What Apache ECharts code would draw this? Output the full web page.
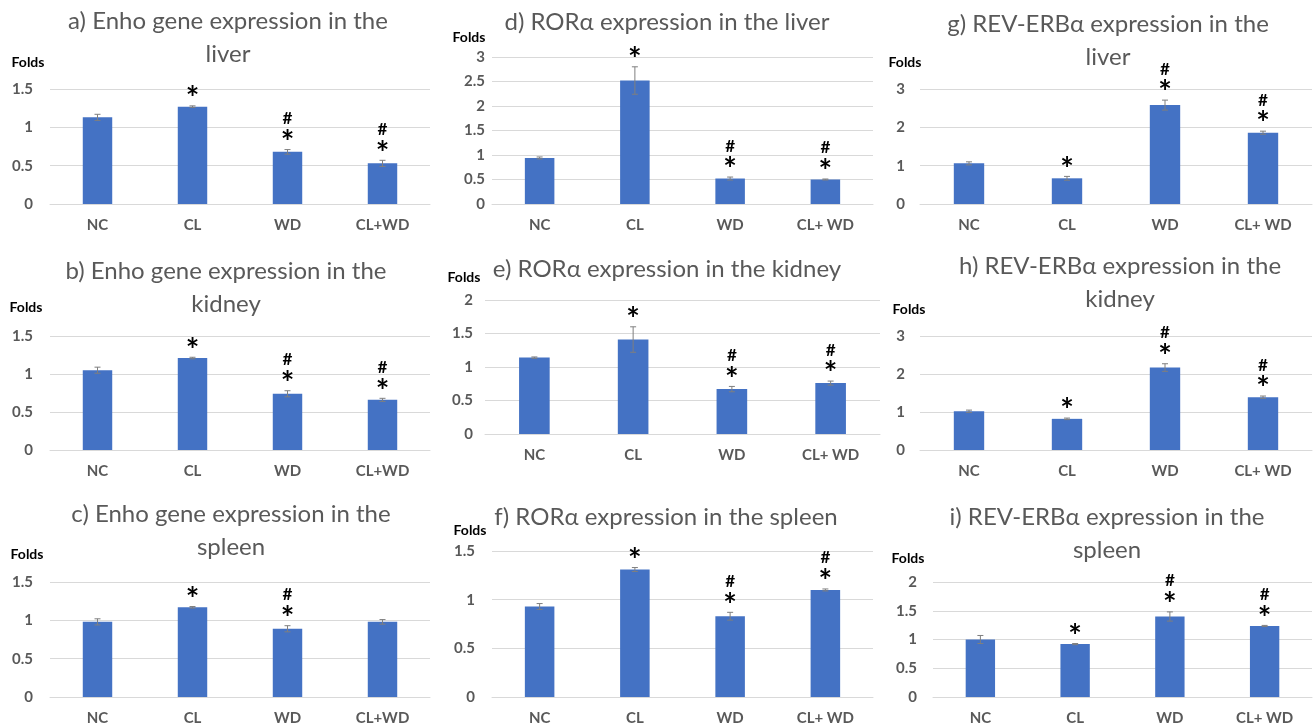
<!DOCTYPE html>
<html>
<head>
<meta charset="utf-8">
<script src="https://cdn.jsdelivr.net/npm/echarts@6/dist/echarts.min.js"></script>
<style>html,body{margin:0;padding:0;background:#fff;}#c{width:1315px;height:727px;}</style>
</head>
<body>
<div id="c"></div>
<script>
// ---------- data ----------
const catsEnho = ['NC', 'CL', 'WD', 'CL+WD'];
const catsOther = ['NC', 'CL', 'WD', 'CL+ WD'];

const enhoLiver = [1.13, 1.27, 0.68, 0.53];
const enhoLiverErr = [0.04, 0.01, 0.03, 0.04];
const enhoKidney = [1.05, 1.21, 0.74, 0.66];
const enhoKidneyErr = [0.04, 0.01, 0.04, 0.02];
const enhoSpleen = [0.98, 1.17, 0.89, 0.98];
const enhoSpleenErr = [0.04, 0.01, 0.04, 0.03];

const roraLiver = [0.94, 2.52, 0.52, 0.50];
const roraLiverErr = [0.02, 0.28, 0.03, 0.01];
const roraKidney = [1.14, 1.41, 0.67, 0.76];
const roraKidneyErr = [0.01, 0.19, 0.04, 0.03];
const roraSpleen = [0.93, 1.31, 0.83, 1.10];
const roraSpleenErr = [0.03, 0.02, 0.04, 0.01];

const revLiver = [1.06, 0.67, 2.58, 1.86];
const revLiverErr = [0.04, 0.05, 0.13, 0.04];
const revKidney = [1.02, 0.82, 2.17, 1.39];
const revKidneyErr = [0.03, 0.02, 0.10, 0.03];
const revSpleen = [1.00, 0.92, 1.40, 1.235];
const revSpleenErr = [0.07, 0.01, 0.08, 0.01];

// significance marks ('#' above '*')
const marksAll = ['', '*', '#*', '#*'];
const marksEnhoSpleen = ['', '*', '#*', ''];

const yMax = { a: 1.5, b: 1.5, c: 1.5, d: 3, e: 2, f: 1.5, g: 3, h: 3, i: 2 };
const yInterval = { a: 0.5, b: 0.5, c: 0.5, d: 0.5, e: 0.5, f: 0.5, g: 1, h: 1, i: 0.5 };

// ---------- layout ----------
const panels = [
  { title: 'a) Enho gene expression in the\nliver', cats: catsEnho, vals: enhoLiver, errs: enhoLiverErr, marks: marksAll, max: yMax.a, interval: yInterval.a,
    grid: [50, 89, 380, 115], tx: 228, ty: 5, fx: 28, fy: 62, lm: 17 },
  { title: 'b) Enho gene expression in the\nkidney', cats: catsEnho, vals: enhoKidney, errs: enhoKidneyErr, marks: marksAll, max: yMax.b, interval: yInterval.b,
    grid: [50, 336, 380, 114], tx: 226, ty: 255, fx: 26, fy: 307, lm: 17 },
  { title: 'c) Enho gene expression in the\nspleen', cats: catsEnho, vals: enhoSpleen, errs: enhoSpleenErr, marks: marksEnhoSpleen, max: yMax.c, interval: yInterval.c,
    grid: [50, 582, 380, 115], tx: 231, ty: 498, fx: 27, fy: 554, lm: 17 },
  { title: 'd) RORα expression in the liver', cats: catsOther, vals: roraLiver, errs: roraLiverErr, marks: marksAll, max: yMax.d, interval: yInterval.d,
    grid: [492, 57, 381, 147], tx: 667, ty: 6, fx: 469, fy: 37, lm: 7 },
  { title: 'e) RORα expression in the kidney', cats: catsOther, vals: roraKidney, errs: roraKidneyErr, marks: marksAll, max: yMax.e, interval: yInterval.e,
    grid: [485, 300, 395, 134], tx: 667, ty: 253, fx: 464, fy: 277, lm: 12 },
  { title: 'f) RORα expression in the spleen', cats: catsOther, vals: roraSpleen, errs: roraSpleenErr, marks: marksAll, max: yMax.f, interval: yInterval.f,
    grid: [492, 551, 381, 146], tx: 666, ty: 501, fx: 470, fy: 530, lm: 17 },
  { title: 'g) REV-ERBα expression in the\nliver', cats: catsOther, vals: revLiver, errs: revLiverErr, marks: marksAll, max: yMax.g, interval: yInterval.g,
    grid: [920, 89, 392, 115], tx: 1108, ty: 8, fx: 905, fy: 62, lm: 15 },
  { title: 'h) REV-ERBα expression in the\nkidney', cats: catsOther, vals: revKidney, errs: revKidneyErr, marks: marksAll, max: yMax.h, interval: yInterval.h,
    grid: [920, 336, 392, 114], tx: 1120, ty: 250, fx: 909, fy: 309, lm: 15 },
  { title: 'i) REV-ERBα expression in the\nspleen', cats: catsOther, vals: revSpleen, errs: revSpleenErr, marks: marksAll, max: yMax.i, interval: yInterval.i,
    grid: [933, 582, 379, 115], tx: 1107, ty: 501, fx: 908, fy: 558, lm: 16 }
];

const FONT = 'Lato, "Open Sans", sans-serif';
const option = {
  animation: false,
  backgroundColor: '#fff',
  title: [], grid: [], xAxis: [], yAxis: [], series: []
};

panels.forEach((p, k) => {
  option.title.push({
    text: p.title, left: p.tx, top: p.ty, padding: 0, textAlign: 'center',
    textStyle: { fontFamily: FONT, fontSize: 24, fontWeight: 'normal', color: '#595959', lineHeight: 33 }
  });
  option.grid.push({ left: p.grid[0], top: p.grid[1], width: p.grid[2], height: p.grid[3], containLabel: false, outerBoundsMode: 'none' });
  option.xAxis.push({
    type: 'category', gridIndex: k, data: p.cats,
    axisLine: { show: true, lineStyle: { color: '#d9d9d9', width: 1 } },
    axisTick: { show: false },
    axisLabel: { margin: 14, fontFamily: FONT, fontSize: 15, fontWeight: 'bold', color: '#595959' }
  });
  option.yAxis.push({
    type: 'value', gridIndex: k, min: 0, max: p.max, interval: p.interval,
    axisLine: { show: false }, axisTick: { show: false },
    splitLine: { lineStyle: { color: '#d9d9d9', width: 1 } },
    axisLabel: { margin: p.lm, fontFamily: FONT, fontSize: 15, fontWeight: 'bold', color: '#595959' }
  });
  option.series.push({
    type: 'bar', xAxisIndex: k, yAxisIndex: k, data: p.vals, barWidth: '31%',
    itemStyle: { color: '#4472C4' }
  });
  const marks = p.marks;
  option.series.push({
    type: 'custom', xAxisIndex: k, yAxisIndex: k, z: 5,
    data: p.vals.map((v, i) => [i, v, p.errs[i]]),
    encode: { x: 0, y: 1 },
    renderItem: function (params, api) {
      const x = api.value(0), v = api.value(1), e = api.value(2);
      const t = api.coord([x, v + e]);
      const b = api.coord([x, v - e]);
      const hw = 3;
      const st = { stroke: '#7f7f7f', lineWidth: 1 };
      const children = [
        { type: 'line', shape: { x1: t[0], y1: t[1], x2: b[0], y2: b[1] }, style: st },
        { type: 'line', shape: { x1: t[0] - hw, y1: t[1], x2: t[0] + hw, y2: t[1] }, style: st },
        { type: 'line', shape: { x1: b[0] - hw, y1: b[1], x2: b[0] + hw, y2: b[1] }, style: st }
      ];
      const m = marks[params.dataIndex];
      if (m.indexOf('*') >= 0) {
        const sy = t[1] - 12;
        children.push({ type: 'text', style: { text: '*', x: t[0], y: sy + 6, align: 'center', verticalAlign: 'middle', font: 'bold 32px ' + FONT, fill: '#000' } });
        if (m.indexOf('#') >= 0) {
          children.push({ type: 'text', style: { text: '#', x: t[0], y: sy - 19, align: 'center', verticalAlign: 'middle', font: 'bold 17px ' + FONT, fill: '#000' } });
        }
      }
      return { type: 'group', children: children };
    }
  });
});

option.graphic = panels.map(p => ({
  type: 'text', x: p.fx, y: p.fy,
  style: { text: 'Folds', align: 'center', verticalAlign: 'middle', font: 'bold 14px ' + FONT, fill: '#000' }
}));

const chart = echarts.init(document.getElementById('c'), null, { renderer: 'canvas' });
chart.setOption(option);
</script>
</body>
</html>
